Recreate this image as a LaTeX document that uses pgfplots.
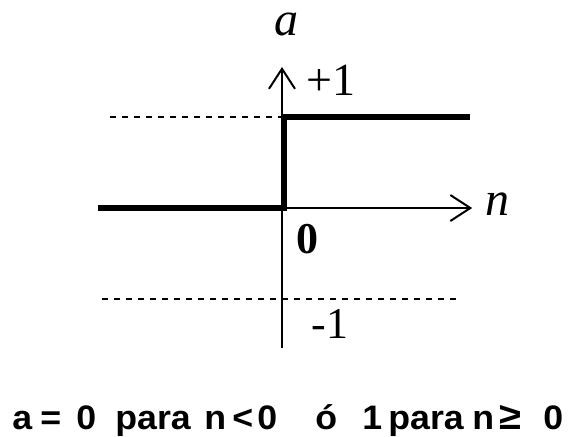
\documentclass[border=0pt]{standalone}
\usepackage{pgfplots}
\pgfplotsset{compat=1.18}
\usepackage{fontspec}
\setmainfont{Liberation Serif}
\newfontfamily\arialb[FakeStretch=1.05]{Liberation Sans Bold}
\usetikzlibrary{arrows.meta}
\begin{document}
\begin{tikzpicture}
\begin{axis}[
  x=45.5pt, y=45.5pt,
  xmin=-2.02, xmax=2.09, ymin=-1.54, ymax=1.55,
  enlargelimits=false,
  axis lines=middle,
  axis line style={-, line width=0.9pt},
  x axis line style={-{Straight Barb[length=10pt,width=13pt,line width=1pt]}},
  y axis line style={-{Straight Barb[length=10pt,width=13pt,line width=1pt]}},
  xtick=\empty, ytick=\empty,
  clip=false,
]
% dotted guide lines
\addplot[black, line width=1pt, dash pattern=on 3pt off 3pt] coordinates {(-1.89,1) (0,1)};
\addplot[black, line width=1pt, dash pattern=on 3pt off 3pt] coordinates {(-1.98,-1) (1.92,-1)};
% hard limit step
\addplot[black, line width=3pt, line join=miter] coordinates {(-2.02,0) (0.02,0) (0.02,1) (2.07,1)};
% labels
\node[anchor=base, inner sep=0] at (axis cs:0.05,1.90) {\fontsize{24}{28}\selectfont\itshape a};
\node[anchor=base, inner sep=0] at (axis cs:2.37,-0.08) {\fontsize{24}{28}\selectfont\itshape n};
\node[anchor=base, inner sep=0] at (axis cs:0.54,1.242) {\fontsize{23}{27}\selectfont +1};
\node[anchor=base, inner sep=0] at (axis cs:0.28,-0.495) {\fontsize{22}{26}\selectfont\bfseries 0};
\node[anchor=base, inner sep=0] at (axis cs:0.53,-1.43) {\fontsize{22}{26}\selectfont -1};
% bottom formula
\begin{scope}[every node/.style={anchor=base west, inner sep=0, font=\arialb\fontsize{17}{20}\selectfont}]
\node at (axis cs:{(12-282)/91},-2.43) {a};
\node at (axis cs:{(40-282)/91},-2.43) {=};
\node at (axis cs:{(76-282)/91},-2.43) {0};
\node at (axis cs:{(115-282)/91},-2.43) {para};
\node at (axis cs:{(204-282)/91},-2.43) {n};
\node at (axis cs:{(232-282)/91},-2.43) {<};
\node at (axis cs:{(257-282)/91},-2.43) {0};
\node at (axis cs:{(315-282)/91},-2.43) {ó};
\node at (axis cs:{(362-282)/91},-2.43) {1};
\node at (axis cs:{(388-282)/91},-2.43) {para};
\node at (axis cs:{(472-282)/91},-2.43) {n};
\node at (axis cs:{(499-282)/91},-2.43) {\fontsize{19}{22}\selectfont ≥};
\node at (axis cs:{(543-282)/91},-2.43) {0};
\end{scope}
\coordinate (BL) at (axis cs:-3.099,-2.516);
\coordinate (TR) at (axis cs:3.187,2.286);
\end{axis}
\pgfresetboundingbox
\useasboundingbox (BL) rectangle (TR);
\end{tikzpicture}
\end{document}
